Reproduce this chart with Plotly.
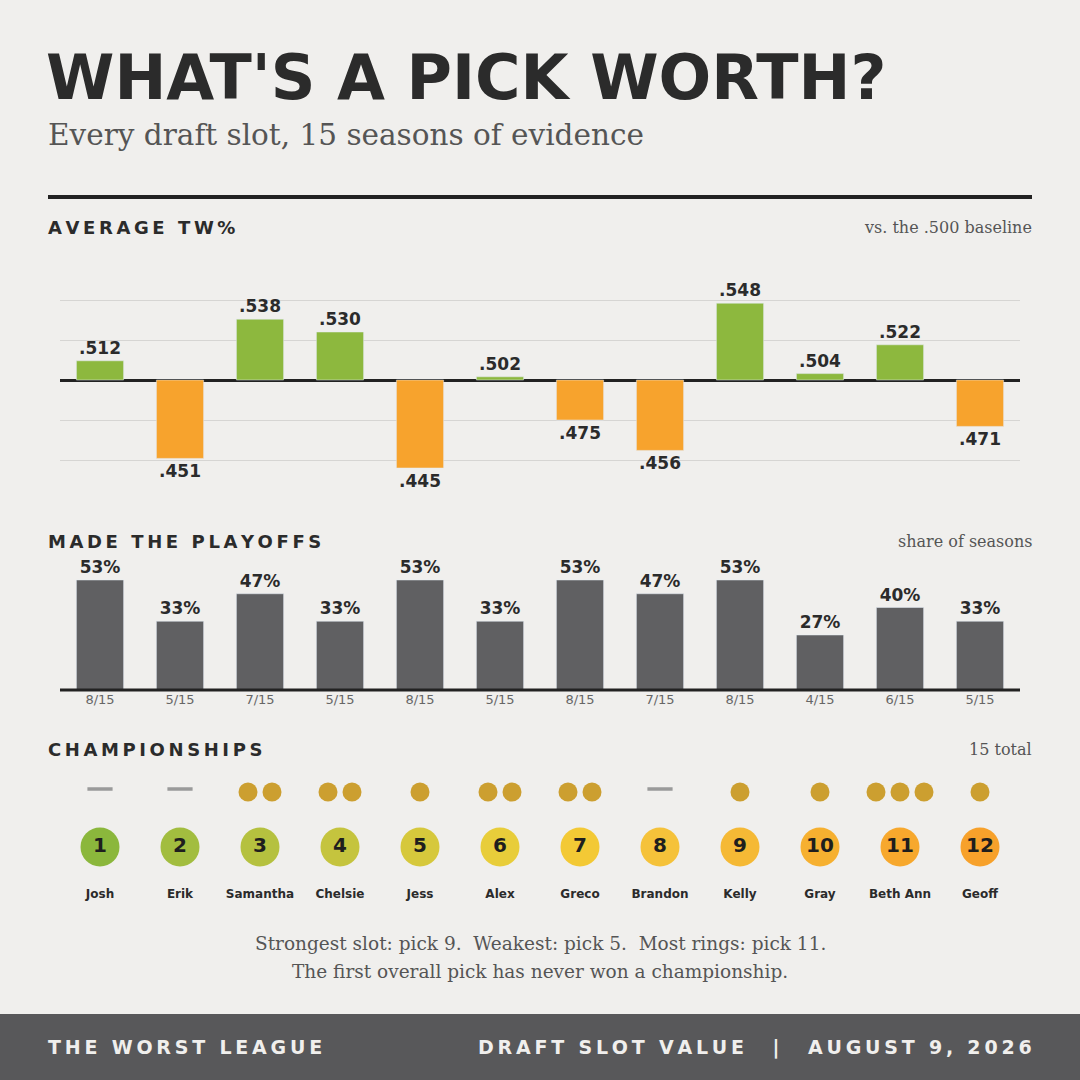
import plotly.graph_objects as go

picks = list(range(1, 13))
names = ["Josh", "Erik", "Samantha", "Chelsie", "Jess", "Alex", "Greco", "Brandon", "Kelly", "Gray", "Beth Ann", "Geoff"]
tw = [0.512, 0.451, 0.538, 0.530, 0.445, 0.502, 0.475, 0.456, 0.548, 0.504, 0.522, 0.471]
playoffs = [8, 5, 7, 5, 8, 5, 8, 7, 8, 4, 6, 5]
seasons = 15
rings = [0, 0, 2, 2, 1, 2, 2, 0, 1, 1, 3, 1]
pick_colors = ["#8bb73c", "#a2bd3f", "#b5c13f", "#c5c43e", "#d6c83c", "#e8cd3a",
               "#f3c935", "#f5c23a", "#f5b935", "#f6b030", "#f7a82d", "#f7a12b"]

W = H = 1080
def py(px):
    return 1 - px / H
def pxx(px):
    return px / W

BG = "#f0efed"
DARK = "#2b2b2b"
SANS = "DejaVu Sans"
SERIF = "DejaVu Serif"

def spaced(s, sep="\u200a"):
    return sep.join(s)

fig = go.Figure()

dev = [v - 0.5 for v in tw]
fig.add_trace(go.Bar(x=picks, y=dev, marker_color=["#8db83e" if d >= 0 else "#f7a32d" for d in dev],
                     width=0.59, xaxis="x", yaxis="y",
                     text=[f"{v:.3f}"[1:] for v in tw], textposition="outside",
                     textfont=dict(family=SANS, size=17, color=DARK, weight="bold"), cliponaxis=False,
                     hoverinfo="skip"))
pct = [p / seasons * 100 for p in playoffs]
fig.add_trace(go.Bar(x=picks, y=pct, marker_color="#606062", width=0.59, xaxis="x2", yaxis="y2",
                     text=[f"{round(v)}%" for v in pct], textposition="outside",
                     textfont=dict(family=SANS, size=17, color=DARK, weight="bold"), cliponaxis=False,
                     hoverinfo="skip"))

dx, dy, dashx = [], [], []
for p, r in zip(picks, rings):
    if r == 0:
        dashx.append(p)
    else:
        for k in range(r):
            dx.append(p + (k - (r - 1) / 2) * 24 / 80)
            dy.append(792)
fig.add_trace(go.Scatter(x=dx, y=dy, mode="markers", xaxis="x3", yaxis="y3",
                         marker=dict(size=19, color="#cc9f30"), hoverinfo="skip"))
fig.add_trace(go.Scatter(x=dashx, y=[789] * len(dashx), mode="markers", xaxis="x3", yaxis="y3",
                         marker=dict(symbol="line-ew", size=18, line=dict(width=3.5, color="#9a9a9a")),
                         hoverinfo="skip"))
fig.add_trace(go.Scatter(x=picks, y=[847] * 12, mode="markers+text", xaxis="x3", yaxis="y3",
                         marker=dict(size=39, color=pick_colors), text=[str(p) for p in picks],
                         textposition="middle center",
                         textfont=dict(family=SANS, size=20, color="#1e1e1e", weight="bold"),
                         hoverinfo="skip"))
fig.add_trace(go.Scatter(x=picks, y=[895] * 12, mode="text", xaxis="x3", yaxis="y3",
                         text=names, textfont=dict(family=SANS, size=12, color=DARK, weight="bold"),
                         hoverinfo="skip"))

xd = [pxx(60), pxx(1020)]
ppd = 1.6 / 0.001
fig.update_layout(
    width=W, height=H, margin=dict(l=0, r=0, t=0, b=0),
    paper_bgcolor=BG, plot_bgcolor="rgba(0,0,0,0)", showlegend=False,
    xaxis=dict(domain=xd, range=[0.5, 12.5], visible=False),
    yaxis=dict(domain=[py(500), py(250)], range=[-(500 - 380) / ppd, (380 - 250) / ppd],
               tickvals=[-0.05, -0.025, 0.025, 0.05], showticklabels=False,
               gridcolor="#d6d5d3", gridwidth=1, zeroline=True, zerolinecolor="#222", zerolinewidth=3),
    xaxis2=dict(domain=xd, range=[0.5, 12.5], anchor="y2", tickvals=picks,
                ticktext=[f"{p}/{seasons}" for p in playoffs], ticks="", showline=False,
                tickfont=dict(family=SANS, size=13, color="#666")),
    yaxis2=dict(domain=[py(690), py(555)], range=[0, 135 / 2.0625], visible=False),
    xaxis3=dict(domain=xd, range=[0.5, 12.5], anchor="y3", visible=False),
    yaxis3=dict(domain=[py(920), py(765)], range=[920, 765], visible=False),
)

shapes = [
    dict(type="rect", xref="paper", yref="paper", x0=0, x1=1, y0=0, y1=py(1014), fillcolor="#58585a", line_width=0, layer="below"),
    dict(type="line", xref="paper", yref="paper", x0=pxx(48), x1=pxx(1032), y0=py(197), y1=py(197), line=dict(color="#222", width=4)),
    dict(type="line", xref="paper", yref="paper", x0=pxx(60), x1=pxx(1020), y0=py(690), y1=py(690), line=dict(color="#222", width=3)),
]
fig.update_layout(shapes=shapes)

ann = []
def A(x, y, t, size, color=DARK, fam=SANS, anchor="left", bold=False):
    if anchor == "left":
        x -= 2
    elif anchor == "right":
        x += 2
    ann.append(dict(xref="paper", yref="paper", x=pxx(x), y=py(y), text=t, showarrow=False,
                    xanchor=anchor, yanchor="middle",
                    font=dict(family=fam, size=size, color=color, weight="bold" if bold else "normal")))

HS = "\u2009"
A(46, 78, "WHAT'S A PICK WORTH?", 62, bold=True)
A(48, 135, "Every draft slot, 15 seasons of evidence", 29.5, color="#555", fam=SERIF)
A(48, 227, spaced("AVERAGE TW%", HS), 18, bold=True)
A(1032, 227, "vs. the .500 baseline", 16, color="#555", fam=SERIF, anchor="right")
A(48, 541, spaced("MADE THE PLAYOFFS", HS), 18, bold=True)
A(1032, 541, "share of seasons", 16, color="#555", fam=SERIF, anchor="right")
A(48, 749, spaced("CHAMPIONSHIPS", HS), 18, bold=True)
A(1032, 749, f"{sum(rings)} total", 16, color="#555", fam=SERIF, anchor="right")
A(540, 943, "Strongest slot: pick 9.  Weakest: pick 5.  Most rings: pick 11.", 18.5, color="#555", fam=SERIF, anchor="center")
A(540, 971, "The first overall pick has never won a championship.", 18.5, color="#555", fam=SERIF, anchor="center")
FS = "\u2009"
A(48, 1047, spaced("THE WORST LEAGUE", FS), 19, color="#f0efed", bold=True)
A(1032, 1047, spaced("DRAFT SLOT VALUE", FS) + "\u2003\u2002|\u2003\u2002" + spaced("AUGUST 9, 2026", FS), 19,
  color="#f0efed", anchor="right", bold=True)
fig.update_layout(annotations=ann)

fig.write_html("out.html", config={"displayModeBar": False})
with open("out.html", encoding="utf-8") as f:
    html = f.read()
html = html.replace("<head>", "<head><style>html,body{margin:0;padding:0;overflow:hidden;}</style>", 1)
with open("out.html", "w", encoding="utf-8") as f:
    f.write(html)
